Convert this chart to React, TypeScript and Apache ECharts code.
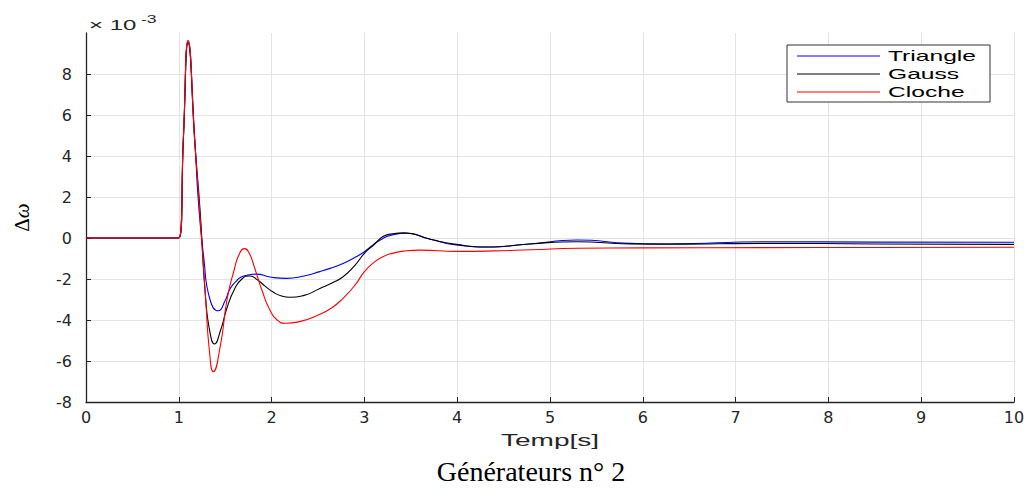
import React, { useEffect, useRef } from "react";
import * as echarts from "echarts";

// ---------- data (values in units of 1e-3) ----------
const seriesNames = ["Triangle", "Gauss", "Cloche"];
const seriesColors = ["#0000ff", "#000000", "#ff0000"];

const triangleData: [number, number][] = [
  [0, 0], [1, 0], [1.05, 4.9], [1.1, 9.5], [1.175, 4.6], [1.21, 1.85], [1.27, -1.0],
  [1.336, -3.0], [1.426, -3.55], [1.5, -3.05], [1.55, -2.5], [1.62, -2.1], [1.7, -1.85],
  [1.84, -1.76], [1.98, -1.9], [2.16, -1.97], [2.35, -1.85], [2.52, -1.64], [2.65, -1.45],
  [2.77, -1.24], [2.9, -0.94], [3.0, -0.67], [3.1, -0.31], [3.2, -0.02], [3.3, 0.15],
  [3.455, 0.23], [3.71, -0.06], [3.99, -0.34], [4.32, -0.44], [4.78, -0.29], [5.29, -0.1],
  [5.86, -0.26], [6.26, -0.29], [7.34, -0.18], [8.5, -0.2], [10, -0.21],
];

const gaussData: [number, number][] = [
  [0, 0], [1, 0], [1.05, 4.9], [1.1, 9.6], [1.175, 4.5], [1.23, 1.3], [1.29, -3.0],
  [1.34, -4.7], [1.383, -5.17], [1.45, -4.5], [1.52, -3.4], [1.6, -2.5], [1.68, -2.0],
  [1.767, -1.85], [1.85, -2.05], [1.93, -2.35], [2.02, -2.65], [2.1, -2.82], [2.2, -2.89],
  [2.35, -2.8], [2.52, -2.46], [2.65, -2.2], [2.77, -1.89], [2.9, -1.32], [3.0, -0.75],
  [3.1, -0.34], [3.2, 0.07], [3.3, 0.2], [3.42, 0.25], [3.71, -0.06], [3.99, -0.31],
  [4.32, -0.44], [4.78, -0.29], [5.29, -0.18], [5.86, -0.29], [6.3, -0.3], [7.34, -0.26],
  [8.5, -0.29], [10, -0.31],
];

const clocheData: [number, number][] = [
  [0, 0], [1, 0], [1.05, 5.0], [1.1, 9.65], [1.175, 4.5], [1.23, 1.0], [1.29, -3.0],
  [1.33, -5.5], [1.372, -6.52], [1.45, -5.2], [1.52, -3.0], [1.6, -1.5], [1.65, -0.8],
  [1.706, -0.52], [1.76, -0.75], [1.82, -1.5], [1.9, -2.6], [1.98, -3.5], [2.06, -4.0],
  [2.15, -4.16], [2.3, -4.08], [2.52, -3.72], [2.65, -3.4], [2.77, -2.94], [2.9, -2.29],
  [3.0, -1.64], [3.1, -1.2], [3.2, -0.91], [3.3, -0.75], [3.42, -0.64], [3.6, -0.59],
  [4.0, -0.65], [4.4, -0.63], [4.8, -0.57], [5.3, -0.5], [6, -0.48], [7.3, -0.47],
  [8.5, -0.46], [10, -0.45],
];

const allData = [triangleData, gaussData, clocheData];

const xTicks = { min: 0, max: 10, interval: 1 };
const yTicks = { min: -8, max: 10, interval: 2 };
const exponentText = "× 10";
const exponentPower = "-3";
const xAxisTitle = "Temp[s]";
const chartTitle = "Générateurs n° 2";

export default function App() {
  const ref = useRef<HTMLDivElement>(null);

  useEffect(() => {
    if (!ref.current) return;
    const chart = echarts.init(ref.current, undefined, { renderer: "svg" });

    const axisColor = "#262626";
    const gridColor = "#e3e3e3";
    const labelFont = "DejaVu Sans";

    const legendGraphics: any[] = [
      {
        type: "rect",
        z: 100,
        shape: { x: 787, y: 45, width: 203, height: 57 },
        style: { fill: "#ffffff", stroke: "#333333", lineWidth: 1 },
      },
    ];
    seriesNames.forEach((name, i) => {
      const y = 56 + i * 18;
      legendGraphics.push({
        type: "line",
        z: 101,
        shape: { x1: 797, y1: y, x2: 880, y2: y },
        style: { stroke: seriesColors[i], lineWidth: 1 },
      });
      legendGraphics.push({
        type: "text",
        z: 101,
        x: 888,
        y: y,
        scaleX: 1.76,
        style: {
          text: name,
          fontSize: 14,
          fontFamily: "Liberation Sans",
          fill: "#000000",
          align: "left",
          verticalAlign: "middle",
          textAlign: "left",
          textVerticalAlign: "middle",
        },
      });
    });

    const option: any = {
      animation: false,
      backgroundColor: "#ffffff",
      grid: { left: 86, right: 17, top: 33, bottom: 86, containLabel: false },
      xAxis: {
        type: "value",
        min: xTicks.min,
        max: xTicks.max,
        interval: xTicks.interval,
        axisLine: { onZero: false, lineStyle: { color: axisColor, width: 1.3 } },
        axisTick: { inside: true, length: 5, lineStyle: { color: axisColor } },
        axisLabel: { color: axisColor, fontFamily: labelFont, fontSize: 16, margin: 7 },
        splitLine: { show: true, lineStyle: { color: gridColor, width: 1 } },
      },
      yAxis: {
        type: "value",
        min: yTicks.min,
        max: yTicks.max,
        interval: yTicks.interval,
        name: "{d|Δ}{w|ω}",
        nameLocation: "middle",
        nameRotate: 90,
        nameGap: 54,
        nameTextStyle: {
          rich: {
            d: { fontFamily: "Liberation Serif", fontSize: 21, color: "#000" },
            w: { fontFamily: "Liberation Serif", fontStyle: "italic", fontSize: 21, color: "#000" },
          },
        },
        axisLine: { onZero: false, lineStyle: { color: axisColor, width: 1.3 } },
        axisTick: { inside: true, length: 5, lineStyle: { color: axisColor } },
        axisLabel: {
          color: axisColor,
          fontFamily: labelFont,
          fontSize: 16,
          margin: 14,
          showMaxLabel: false,
          formatter: (v: number) => (v === yTicks.max ? "" : String(v)),
        },
        splitLine: { show: true, showMaxLine: false, lineStyle: { color: gridColor, width: 1 } },
      },
      series: seriesNames.map((name, i) => ({
        name,
        type: "line",
        data: allData[i],
        showSymbol: false,
        symbol: "none",
        smooth: 0.55,
        lineStyle: { color: seriesColors[i], width: 1.1 },
        itemStyle: { color: seriesColors[i] },
        z: 2 + i,
      })),
      graphic: [
        ...legendGraphics,
        {
          type: "text",
          x: 89,
          y: 25,
          scaleX: 1.6,
          style: {
            text: exponentText,
            fontSize: 15,
            fontFamily: "Liberation Sans",
            fill: axisColor,
            align: "left",
            verticalAlign: "middle",
            textAlign: "left",
            textVerticalAlign: "middle",
          },
        },
        {
          type: "text",
          x: 141,
          y: 19,
          scaleX: 1.6,
          style: {
            text: exponentPower,
            fontSize: 11,
            fontFamily: "Liberation Sans",
            fill: axisColor,
            align: "left",
            verticalAlign: "middle",
            textAlign: "left",
            textVerticalAlign: "middle",
          },
        },
        {
          type: "text",
          x: 550,
          y: 440,
          scaleX: 1.65,
          style: {
            text: xAxisTitle,
            fontSize: 17,
            fontFamily: "Liberation Sans",
            fill: axisColor,
            align: "center",
            verticalAlign: "middle",
            textAlign: "center",
            textVerticalAlign: "middle",
          },
        },
        {
          type: "text",
          x: 531,
          y: 471,
          style: {
            text: chartTitle,
            fontSize: 28,
            fontFamily: "Liberation Serif",
            fill: "#000000",
            align: "center",
            verticalAlign: "middle",
            textAlign: "center",
            textVerticalAlign: "middle",
          },
        },
      ],
    };

    chart.setOption(option);
    return () => {
      chart.dispose();
    };
  }, []);

  return (
    <div
      ref={ref}
      style={{ position: "fixed", left: 0, top: 0, width: 1031, height: 488, background: "#fff" }}
    />
  );
}
